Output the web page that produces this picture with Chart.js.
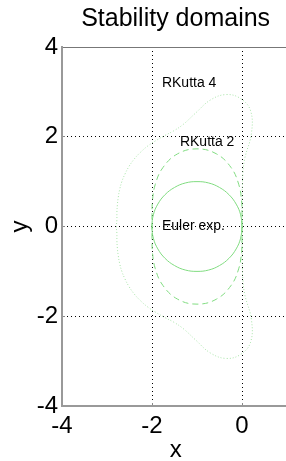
<!DOCTYPE html>
<html>
<head>
<meta charset="utf-8">
<script src="https://cdn.jsdelivr.net/npm/chart.js@4/dist/chart.umd.min.js"></script>
<style>
	html, body { margin: 0; padding: 0; background: #fff; overflow: hidden; }
	#wrap { width: 286px; height: 461px; overflow: hidden; }
</style>
</head>
<body>
<div id="wrap"><canvas id="chart" width="300" height="461"></canvas></div>
<script>
// boundaries |R(z)| = 1
const eulerX = [0, -0.03, -0.13, -0.29, -0.5, -0.74, -1, -1.26, -1.5, -1.71, -1.87, -1.97, -2,
	-1.97, -1.87, -1.71, -1.5, -1.26, -1, -0.74, -0.5, -0.29, -0.13, -0.03, 0];
const eulerY = [0, 0.26, 0.5, 0.71, 0.87, 0.97, 1, 0.97, 0.87, 0.71, 0.5, 0.26, 0,
	-0.26, -0.5, -0.71, -0.87, -0.97, -1, -0.97, -0.87, -0.71, -0.5, -0.26, 0];

const rk2X = [0, 0, -0.01, -0.07, -0.24, -0.57, -1, -1.43, -1.76, -1.93, -1.99, -2, -2,
	-2, -1.99, -1.93, -1.76, -1.43, -1, -0.57, -0.24, -0.07, -0.01, 0, 0];
const rk2Y = [0, 0.27, 0.57, 0.93, 1.31, 1.62, 1.73, 1.62, 1.31, 0.93, 0.57, 0.27, 0,
	-0.27, -0.57, -0.93, -1.31, -1.62, -1.73, -1.62, -1.31, -0.93, -0.57, -0.27, 0];

const rk4X = [0, 0, 0, 0, 0, 0, 0.01, 0.02, 0.06, 0.21, 0.19, -0.03, -0.35, -0.7, -1.04, -1.3,
	-1.52, -1.73, -1.92, -2.1, -2.26, -2.39, -2.51, -2.6, -2.67, -2.72, -2.75, -2.77, -2.78, -2.78,
	-2.79,
	-2.78, -2.78, -2.77, -2.75, -2.72, -2.67, -2.6, -2.51, -2.39, -2.26, -2.1, -1.92, -1.73, -1.52,
	-1.3, -1.04, -0.7, -0.35, -0.03, 0.19, 0.21, 0.06, 0.02, 0.01, 0, 0, 0, 0, 0, 0];
const rk4Y = [0, 0.14, 0.28, 0.42, 0.58, 0.75, 0.95, 1.19, 1.51, 2.08, 2.58, 2.85, 2.94, 2.82, 2.52, 2.28,
	2.13, 2.02, 1.91, 1.79, 1.65, 1.51, 1.34, 1.17, 1.0, 0.82, 0.65, 0.48, 0.31, 0.16,
	0,
	-0.16, -0.31, -0.48, -0.65, -0.82, -1.0, -1.17, -1.34, -1.51, -1.65, -1.79, -1.91, -2.02, -2.13,
	-2.28, -2.52, -2.82, -2.94, -2.85, -2.58, -2.08, -1.51, -1.19, -0.95, -0.75, -0.58, -0.42, -0.28, -0.14, 0];

const xTicks = [-4, -2, 0];
const yTicks = [-4, -2, 0, 2, 4];

const labelText = ['RKutta 4', 'RKutta 2', 'Euler exp.'];
const labelX = [-1.78, -1.38, -1.78];
const labelY = [3.2, 1.89, 0];

const FONT = "'Liberation Sans', Arial, sans-serif";
const toPoints = (xs, ys) => xs.map((x, i) => ({x: x, y: ys[i]}));
const setTicks = (list) => (scale) => { scale.ticks = list.map(v => ({value: v})); };

// the text(x, y, ...) labels, placed in data units
const textLabels = {
	id: 'textLabels',
	afterDatasetsDraw(chart) {
		const {ctx, scales} = chart;
		ctx.save();
		ctx.font = '14px ' + FONT;
		ctx.fillStyle = '#000';
		ctx.textAlign = 'left';
		ctx.textBaseline = 'middle';
		labelText.forEach((t, i) => {
			ctx.fillText(t, scales.x.getPixelForValue(labelX[i]), scales.y.getPixelForValue(labelY[i]));
		});
		ctx.restore();
	}
};

const gridOf = (edge) => ({
	color: (c) => (c.tick && edge.includes(c.tick.value)) ? 'rgba(0,0,0,0)' : '#000',
	tickColor: (c) => (c.tick && edge.includes(c.tick.value)) ? 'rgba(0,0,0,0)' : '#888',
	lineWidth: 1,
	drawTicks: true,
	tickLength: -3, // small inward ticks
});

new Chart(document.getElementById('chart'), {
	type: 'scatter',
	data: {
		datasets: [{
			label: 'RKutta 4',
			data: toPoints(rk4X, rk4Y),
			borderColor: '#a8e4a8',
			borderWidth: 1,
			borderDash: [1, 2],
			showLine: true,
			pointRadius: 0,
			tension: 0.4,
		}, {
			label: 'RKutta 2',
			data: toPoints(rk2X, rk2Y),
			borderColor: '#80dc80',
			borderWidth: 1,
			borderDash: [6, 4],
			showLine: true,
			pointRadius: 0,
			tension: 0.4,
		}, {
			label: 'Euler exp.',
			data: toPoints(eulerX, eulerY),
			borderColor: '#80dc80',
			borderWidth: 1,
			showLine: true,
			pointRadius: 0,
			tension: 0.4,
		}]
	},
	options: {
		responsive: false,
		animation: false,
		// right edge of the axes falls just past the cropped window
		layout: {padding: {left: 0, right: 10.75, top: 0, bottom: 0}},
		plugins: {
			legend: {display: false},
			tooltip: {enabled: false},
			title: {
				display: true,
				text: 'Stability domains',
				fullSize: false,
				color: '#000',
				font: {family: FONT, size: 25, weight: 'normal'},
				padding: {top: 4, bottom: 13},
			},
		},
		scales: {
			x: {
				type: 'linear',
				position: 'bottom',
				min: -4, max: 1.05,
				afterBuildTicks: setTicks(xTicks),
				afterFit: (s) => { s.height = 55; },
				grid: gridOf([-4]),
				border: {color: '#999', width: 2, dash: [1, 3]},
				ticks: {color: '#000', padding: 9, font: {family: FONT, size: 24}},
				title: {display: true, text: 'x', color: '#000', font: {family: FONT, size: 24}, padding: {top: 0, bottom: -4}},
			},
			xt: {
				type: 'linear',
				position: 'top',
				min: -4, max: 1.05,
				afterFit: (s) => { s.height = 0; },
				grid: {display: false, drawTicks: false},
				border: {color: '#777', width: 1},
				ticks: {display: false},
			},
			y: {
				type: 'linear',
				min: -4, max: 4,
				afterBuildTicks: setTicks(yTicks),
				afterFit: (s) => { s.width = 62; },
				grid: gridOf([-4, 4]),
				border: {color: '#999', width: 2, dash: [1, 3]},
				ticks: {color: '#000', padding: 7, font: {family: FONT, size: 24}},
				title: {display: true, text: 'y', color: '#000', font: {family: FONT, size: 24}, padding: {top: 6, bottom: 0}},
			},
		},
	},
	plugins: [textLabels],
});
</script>
</body>
</html>
